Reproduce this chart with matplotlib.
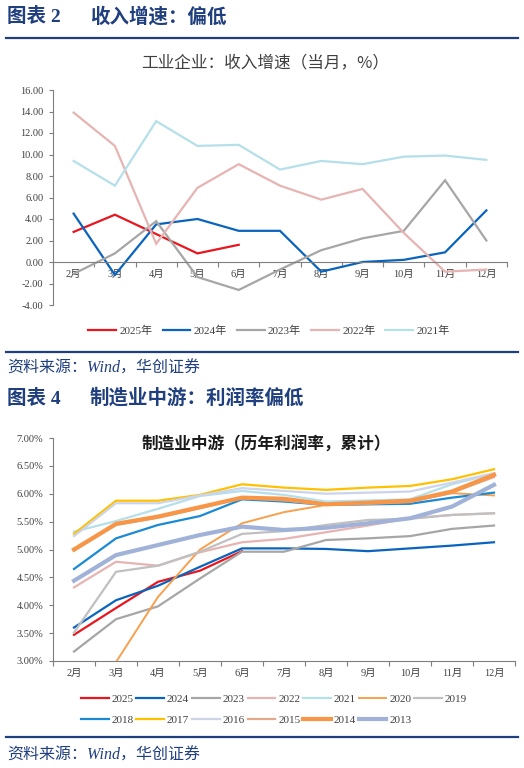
import matplotlib
matplotlib.use("Agg")
import matplotlib.pyplot as plt
from matplotlib.ticker import FixedLocator, NullFormatter, FixedFormatter
from matplotlib.lines import Line2D

plt.rcParams['font.family'] = ['Liberation Serif', 'Noto Sans CJK SC']
plt.rcParams['axes.unicode_minus'] = False

# ---------------- data ----------------
months = ['2月', '3月', '4月', '5月', '6月', '7月', '8月', '9月', '10月', '11月', '12月']

# chart 1: industrial enterprises revenue growth (monthly, %)
rev_years = ['2025年', '2024年', '2023年', '2022年', '2021年']
rev_2025 = [2.8, 4.4, 2.6, 0.8, 1.6]
rev_2024 = [4.5, -1.2, 3.5, 4.0, 2.9, 2.9, -0.9, 0.0, 0.2, 0.9, 4.8]
rev_2023 = [-1.1, 0.8, 3.8, -1.4, -2.6, -0.7, 1.1, 2.2, 2.9, 7.6, 2.0]
rev_2022 = [13.9, 10.8, 1.7, 6.9, 9.1, 7.1, 5.8, 6.8, 2.7, -0.9, -0.7]
rev_2021 = [9.4, 7.1, 13.1, 10.8, 10.9, 8.6, 9.4, 9.1, 9.8, 9.9, 9.5]
rev_yticks = [-4, -2, 0, 2, 4, 6, 8, 10, 12, 14, 16]

# chart 2: mid-stream manufacturing profit margin (cumulative, %)
pm_years = ['2025', '2024', '2023', '2022', '2021', '2020', '2019',
            '2018', '2017', '2016', '2015', '2014', '2013']
pm_2025 = [3.47, 3.95, 4.42, 4.62, 4.97]
pm_2024 = [3.60, 4.09, 4.35, 4.69, 5.02, 5.02, 5.01, 4.97, 5.02, 5.07, 5.13]
pm_2023 = [3.17, 3.75, 3.98, 4.48, 4.96, 4.96, 5.17, 5.20, 5.24, 5.37, 5.43]
pm_2022 = [4.32, 4.78, 4.71, 4.95, 5.13, 5.19, 5.31, 5.43, 5.56, 5.62, 5.65]
pm_2021 = [5.32, 5.51, 5.73, 5.96, 6.05, 5.98, 5.86, 5.88, 5.90, 6.17, 6.36]
pm_2020 = [2.00, 2.98, 4.15, 5.00, 5.47, 5.67, 5.80, 5.82, 5.86, 6.01, 5.97]
pm_2019 = [3.51, 4.60, 4.71, 4.96, 5.28, 5.33, 5.44, 5.53, 5.55, 5.62, 5.65]
pm_2018 = [4.65, 5.20, 5.44, 5.60, 5.90, 5.86, 5.80, 5.81, 5.82, 5.93, 6.02]
pm_2017 = [5.28, 5.875, 5.875, 5.98, 6.17, 6.11, 6.07, 6.11, 6.14, 6.26, 6.44]
pm_2016 = [5.24, 5.83, 5.83, 5.97, 6.10, 6.05, 6.00, 6.02, 6.04, 6.20, 6.37]
pm_2015 = [4.98, 5.44, 5.57, 5.74, 5.92, 5.88, 5.80, 5.82, 5.85, 6.02, 6.30]
pm_2014 = [5.00, 5.46, 5.59, 5.76, 5.93, 5.91, 5.81, 5.84, 5.875, 6.04, 6.34]
pm_2013 = [4.44, 4.90, 5.08, 5.26, 5.41, 5.35, 5.39, 5.47, 5.56, 5.77, 6.16]
pm_yticks = [3.0, 3.5, 4.0, 4.5, 5.0, 5.5, 6.0, 6.5, 7.0]

# ---------------- styles ----------------
NAVY = '#1F3F7F'
AXIS = '#7F7F7F'
TXT = '#404040'

rev_series = [rev_2025, rev_2024, rev_2023, rev_2022, rev_2021]
rev_colors = ['#E8161E', '#0A64BE', '#A6A6A6', '#E6B4B2', '#B5DFEA']

pm_series = [pm_2025, pm_2024, pm_2023, pm_2022, pm_2021, pm_2020, pm_2019,
             pm_2018, pm_2017, pm_2016, pm_2015, pm_2014, pm_2013]
pm_colors = ['#E8161E', '#0A64BE', '#A6A6A6', '#E6B4B2', '#B5DFEA', '#F8A04E', '#C0C0C0',
             '#1A8AD4', '#FFC000', '#CDD4EA', '#E3A889', '#F79646', '#A0B2D8']
pm_widths = [1.6, 1.6, 1.6, 1.6, 1.6, 1.4, 1.6, 1.6, 1.6, 1.6, 1.6, 3.0, 3.0]

W, H = 524, 768
fig = plt.figure(figsize=(W / 100, H / 100), dpi=100)


def fx(x):
    return x / W


def fy(y):
    return 1 - y / H


def add_ax(l, t, r, b):
    return fig.add_axes([fx(l), fy(b), (r - l) / W, (b - t) / H])


def hline(y):
    fig.add_artist(Line2D([fx(6), fx(518)], [fy(y), fy(y)], color=NAVY, lw=1.6))


def cat_axis(ax, n):
    xs = list(range(n))
    ax.set_xlim(-0.5, n - 0.5)
    ax.xaxis.set_major_locator(FixedLocator([i - 0.5 for i in range(n + 1)]))
    ax.xaxis.set_major_formatter(NullFormatter())
    ax.xaxis.set_minor_locator(FixedLocator(xs))
    ax.xaxis.set_minor_formatter(FixedFormatter(months))
    ax.tick_params(axis='x', which='major', direction='out', length=3.5, width=0.8, color=AXIS)
    ax.tick_params(axis='x', which='minor', length=0, pad=5.5, labelsize=7.5, labelcolor=TXT)
    return xs


# ---------------- headers ----------------
title_font = dict(family=['Liberation Serif', 'Noto Sans CJK SC'], weight='bold', color=NAVY, fontsize=14)
fig.text(fx(7), fy(17), '图表 2', va='center', ha='left', **title_font)
fig.text(fx(90), fy(17), '收入增速：偏低', va='center', ha='left', **title_font)
hline(38)

fig.text(fx(265), fy(63), '工业企业：收入增速（当月，%）', va='center', ha='center',
         fontsize=12, color=TXT, family=['Noto Sans CJK SC'])

# ---------------- chart 1 ----------------
ax1 = add_ax(53, 90, 507, 305)
xs = cat_axis(ax1, len(months))
for vals, c, lab in zip(rev_series, rev_colors, rev_years):
    ax1.plot(xs[:len(vals)], vals, color=c, lw=1.6, label=lab, solid_joinstyle='miter')
ax1.set_ylim(-4, 16)
ax1.set_yticks(rev_yticks)
ax1.set_yticklabels(['%.2f' % v for v in rev_yticks])
ax1.tick_params(axis='y', direction='out', length=3, width=0.8, color=AXIS, labelsize=7.5,
                labelcolor=TXT, pad=4)
for s in ['top', 'right']:
    ax1.spines[s].set_visible(False)
ax1.spines['bottom'].set_position(('data', 0))
ax1.spines['bottom'].set_color(AXIS)
ax1.spines['left'].set_color(AXIS)
ax1.patch.set_alpha(0)

h1, l1 = ax1.get_legend_handles_labels()
fig.legend(h1, l1, loc='center', bbox_to_anchor=(fx(269), fy(331)), ncol=5, frameon=False,
           fontsize=8, handlelength=2.5, handletextpad=0.3, columnspacing=0.9,
           labelcolor=TXT)

hline(352)
src_font = dict(family=['Liberation Serif', 'Noto Sans CJK SC'], style='italic', color=NAVY, fontsize=11.5)
fig.text(fx(7), fy(369), '资料来源：Wind，华创证券', va='center', ha='left', **src_font)

fig.text(fx(7), fy(398), '图表 4', va='center', ha='left', **title_font)
fig.text(fx(90), fy(398), '制造业中游：利润率偏低', va='center', ha='left', **title_font)

fig.text(fx(266), fy(445), '制造业中游（历年利润率，累计）', va='center', ha='center',
         fontsize=12, color='#1A1A1A', family=['Noto Sans CJK SC'], weight='bold')

# ---------------- chart 2 ----------------
ax2 = add_ax(53, 438, 515, 661)
xs2 = cat_axis(ax2, len(months))
handles = {}
for i, (vals, c, lw, lab) in enumerate(zip(pm_series, pm_colors, pm_widths, pm_years)):
    ln, = ax2.plot(xs2[:len(vals)], vals, color=c, lw=lw, label=lab, zorder=2 + i * 0.01)
    handles[lab] = ln
ax2.set_ylim(3.0, 7.0)
ax2.set_yticks(pm_yticks)
ax2.set_yticklabels(['%.2f%%' % v for v in pm_yticks])
ax2.tick_params(axis='y', direction='out', length=3, width=0.8, color=AXIS, labelsize=7.5,
                labelcolor=TXT, pad=4)
for s in ['top', 'right']:
    ax2.spines[s].set_visible(False)
ax2.spines['bottom'].set_color(AXIS)
ax2.spines['left'].set_color(AXIS)

order = ['2025', '2018', '2024', '2017', '2023', '2016', '2022', '2015',
         '2021', '2014', '2020', '2013', '2019']
fig.legend([handles[k] for k in order], order, loc='upper left',
           bbox_to_anchor=(fx(81), fy(694)), ncol=7, frameon=False,
           fontsize=8, handlelength=2.5, handletextpad=0.25, columnspacing=0.25,
           labelspacing=1.0, borderaxespad=0, borderpad=0, labelcolor=TXT)

hline(737)
fig.text(fx(7), fy(756), '资料来源：Wind，华创证券', va='center', ha='left', **src_font)

fig.savefig('out.png', dpi=100, facecolor='white')
